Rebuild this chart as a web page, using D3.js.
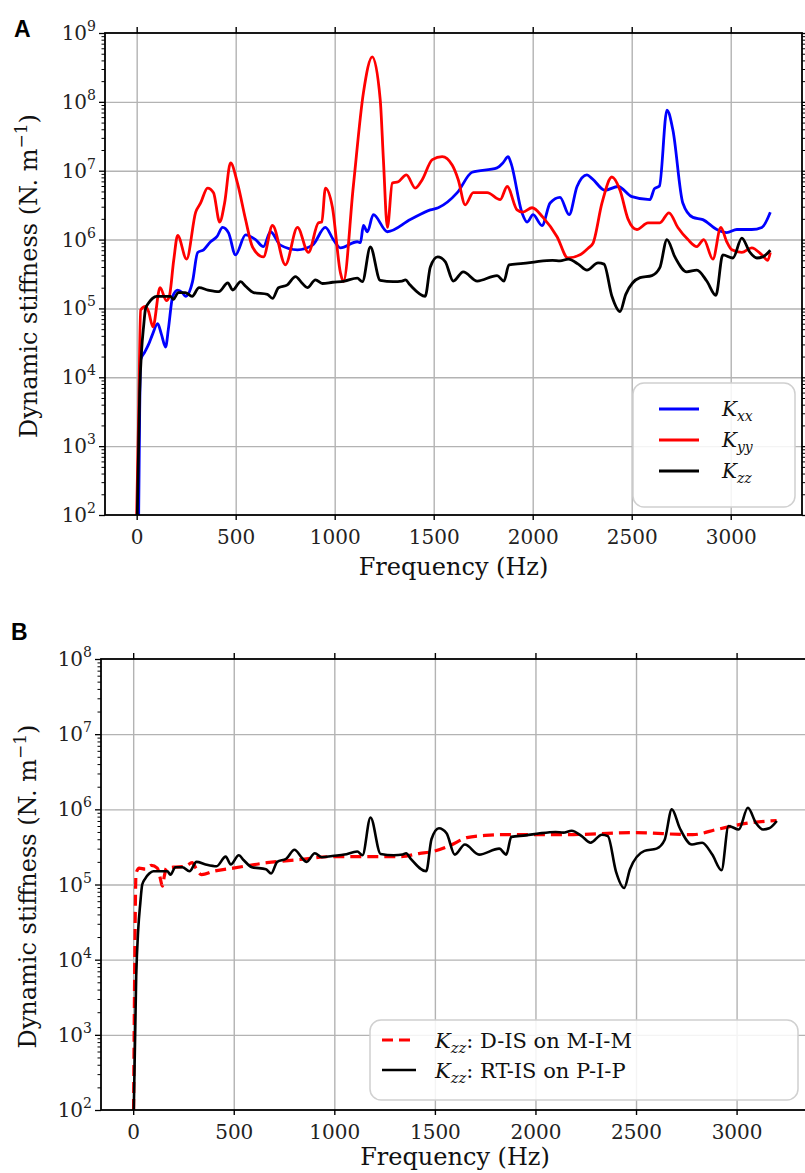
<!DOCTYPE html>
<html>
<head>
<meta charset="utf-8">
<script src="https://cdn.jsdelivr.net/npm/d3@7"></script>
<style>
    body { margin: 0; background: #fff; }
    svg { display: block; }
</style>
</head>
<body>
<svg id="figure" width="805" height="1173"></svg>
<script>

// Panel A: K_xx (blue)
const kxxFreq = [10, 15, 20, 40, 60, 80, 106, 125, 146, 160, 182, 207, 230, 247, 282, 308, 338, 373, 405, 434,
    464, 499, 550, 600, 640, 676, 726, 812, 888, 953, 993, 1029, 1114, 1130, 1145, 1165, 1195, 1266, 1382, 1483,
    1523, 1619, 1694, 1820, 1850, 1876, 1890, 1946, 1972, 2002, 2047, 2088, 2138, 2184, 2224, 2274, 2300, 2365, 2431, 2501,
    2592, 2615, 2640, 2678, 2708, 2758, 2809, 2859, 2930, 2980, 3031, 3106, 3157, 3200];
const kxxValues = [1e2, 3e3, 1.8e4, 2.3e4, 3.0e4, 4.2e4, 6.0e4, 4.2e4, 2.75e4, 5e4, 1.5e5, 1.85e5, 1.7e5, 1.5e5, 2.45e5, 6.5e5, 7.1e5, 9.3e5, 1.1e6, 1.5e6,
    1.25e6, 6.0e5, 1.17e6, 1.0e6, 7.9e5, 1.3e6, 8.3e5, 7.1e5, 8.3e5, 1.5e6, 1.0e6, 7.6e5, 9.3e5, 9.0e5, 1.6e6, 1.3e6, 2.3e6, 1.3e6, 1.95e6, 2.7e6,
    2.9e6, 4.8e6, 9.5e6, 1.1e7, 1.3e7, 1.6e7, 1.3e7, 2.45e6, 1.8e6, 2.3e6, 1.6e6, 3.4e6, 4.1e6, 2.3e6, 5.9e6, 8.7e6, 7.7e6, 5.2e6, 5.9e6, 4.2e6,
    3.8e6, 5.5e6, 6.0e6, 7.6e7, 3.9e7, 3.4e6, 2.1e6, 1.95e6, 1.4e6, 1.26e6, 1.4e6, 1.4e6, 1.5e6, 2.5e6];

// Panel A: K_yy (red)
const kyyFreq = [0, 10, 20, 45, 60, 82, 118, 150, 165, 187, 207, 252, 298, 323, 358, 388, 419, 444, 474, 509,
    550, 585, 640, 686, 751, 812, 867, 918, 935, 953, 988, 1029, 1044, 1094, 1145, 1190, 1230, 1246, 1266, 1291,
    1321, 1362, 1407, 1442, 1493, 1543, 1594, 1624, 1659, 1700, 1770, 1836, 1871, 1921, 1950, 1997, 2052, 2123, 2178, 2239,
    2280, 2305, 2350, 2400, 2441, 2481, 2526, 2582, 2642, 2688, 2733, 2784, 2829, 2864, 2910, 2950, 2980, 3006, 3056, 3106,
    3157, 3187, 3200];
const kyyValues = [1e2, 3e3, 9.5e4, 1.07e5, 9e4, 5.4e4, 2.0e5, 1.3e5, 1.5e5, 5e5, 1.15e6, 5.2e5, 2.5e6, 3.4e6, 5.6e6, 4.8e6, 1.8e6, 3.4e6, 1.3e7, 6.6e6,
    1.95e6, 7.8e5, 5.6e5, 1.6e6, 4.3e5, 1.5e6, 6.5e5, 1.75e6, 1.8e6, 5.6e6, 3.0e6, 3.3e5, 2.45e5, 5.9e6, 1.35e8, 4.5e8, 1.07e8, 1.45e7, 1.5e6, 6.6e6,
    6.9e6, 8.7e6, 5.6e6, 7.4e6, 1.45e7, 1.6e7, 1.2e7, 7.4e6, 3.2e6, 4.8e6, 4.8e6, 3.8e6, 5.9e6, 2.7e6, 2.5e6, 2.9e6, 2.1e6, 1.1e6, 5.4e5, 6.0e5,
    7.5e5, 8.9e5, 3.4e6, 8.1e6, 5.2e6, 2.0e6, 1.4e6, 1.75e6, 1.75e6, 2.45e6, 1.5e6, 1.0e6, 7.9e5, 1.0e6, 5.2e5, 1.5e6, 9.3e5, 7.1e5, 6.5e5, 7.6e5,
    6.0e5, 5.0e5, 6.5e5];

// K_zz (black), RT-IS on P-I-P, shown in both panels
const kzzFreq = [3, 15, 25, 35, 45, 60, 80, 100, 140, 170, 185, 210, 245, 280, 315, 360, 415, 460, 485, 525,
    550, 590, 660, 686, 716, 761, 802, 837, 862, 903, 938, 990, 1050, 1114, 1140, 1180, 1230, 1296, 1340, 1357,
    1380, 1457, 1483, 1520, 1558, 1599, 1649, 1720, 1820, 1855, 1880, 1952, 2022, 2100, 2138, 2180, 2230, 2274, 2330, 2360,
    2400, 2441, 2470, 2542, 2602, 2642, 2678, 2718, 2778, 2829, 2879, 2925, 2960, 3011, 3056, 3096, 3132, 3162, 3200];
const kzzValues = [1e2, 6e3, 2.5e4, 5.5e4, 1.0e5, 1.2e5, 1.4e5, 1.5e5, 1.5e5, 1.5e5, 1.35e5, 1.7e5, 1.7e5, 1.5e5, 2.0e5, 1.85e5, 1.75e5, 2.35e5, 1.85e5, 2.45e5,
    2.1e5, 1.7e5, 1.6e5, 1.4e5, 2.0e5, 2.2e5, 2.9e5, 2.3e5, 2.0e5, 2.6e5, 2.3e5, 2.4e5, 2.5e5, 2.75e5, 2.45e5, 7.8e5, 2.55e5, 2.45e5, 2.5e5, 2.6e5,
    2.2e5, 1.5e5, 4.0e5, 5.6e5, 4.8e5, 2.5e5, 3.4e5, 2.5e5, 3.0e5, 2.5e5, 4.3e5, 4.5e5, 4.8e5, 5.0e5, 4.9e5, 5.2e5, 4.4e5, 3.6e5, 4.6e5, 4.4e5,
    1.5e5, 9.0e4, 1.6e5, 2.8e5, 3.0e5, 3.9e5, 1.0e6, 5.6e5, 3.4e5, 3.6e5, 2.5e5, 1.55e5, 6.0e5, 5.4e5, 1.05e6, 6.6e5, 5.4e5, 5.6e5, 7.0e5];

// Panel B: K_zz D-IS on M-I-M (red dashed)
const disFreq = [2, 8, 14, 30, 60, 90, 120, 135, 145, 155, 165, 200, 260, 293, 315, 340, 400, 497, 665, 830,
    994, 1160, 1326, 1426, 1475, 1575, 1659, 1750, 1823, 2156, 2484, 2782, 2901, 3065, 3199];
const disValues = [1e2, 1e4, 1.4e5, 1.65e5, 1.6e5, 1.8e5, 1.65e5, 1.2e5, 9.5e4, 1.3e5, 1.65e5, 1.7e5, 1.75e5, 1.95e5, 1.6e5, 1.35e5, 1.5e5, 1.65e5, 1.95e5, 2.15e5,
    2.35e5, 2.35e5, 2.35e5, 2.6e5, 2.7e5, 3.3e5, 4.2e5, 4.5e5, 4.6e5, 4.6e5, 4.9e5, 4.6e5, 5.4e5, 6.6e5, 7.1e5];

const xTicks = [0, 500, 1000, 1500, 2000, 2500, 3000];
const xDomain = [-160, 3360];
const yExponentsA = [2, 3, 4, 5, 6, 7, 8, 9];
const yExponentsB = [2, 3, 4, 5, 6, 7, 8];
const legendSubsA = ['xx', 'yy', 'zz'];
const legendTextB = [': D-IS on M-I-M', ': RT-IS on P-I-P'];

const serif = '"DejaVu Serif", serif';
const svg = d3.select('#figure');

function styleAxis(g, color, width) {
    g.select('.domain').remove();
    g.selectAll('.tick line').attr('stroke', color).attr('stroke-width', width);
}

function drawPanel(panel) {
    const { left, right, top, bottom } = panel.box;
    const exps = panel.exponents;
    const x = d3.scaleLinear().domain(xDomain).range([left, right]);
    const y = d3.scaleLog()
        .domain([Math.pow(10, exps[0]), Math.pow(10, exps[exps.length - 1])])
        .range([bottom, top]);

    const majors = exps.map(e => Math.pow(10, e));
    const minors = [];
    exps.slice(0, -1).forEach(e => {
        for (let k = 2; k <= 9; k++) minors.push(k * Math.pow(10, e));
    });

    const g = svg.append('g');

    // grid
    g.append('g')
        .attr('transform', `translate(0,${bottom})`)
        .call(d3.axisBottom(x).tickValues(xTicks).tickSize(-(bottom - top)).tickFormat(''))
        .call(a => styleAxis(a, '#b3b3b3', 1.4));
    g.append('g')
        .attr('transform', `translate(${left},0)`)
        .call(d3.axisLeft(y).tickValues(majors.slice(1, -1)).tickSize(-(right - left)).tickFormat(''))
        .call(a => styleAxis(a, '#b3b3b3', 1.4));

    // data lines
    const clipId = 'clip-' + panel.name;
    svg.append('clipPath').attr('id', clipId)
        .append('rect')
        .attr('x', left).attr('y', top - 2)
        .attr('width', right - left).attr('height', bottom - top + 2);

    const line = d3.line()
        .x(d => x(d[0]))
        .y(d => y(d[1]))
        .curve(d3.curveMonotoneX);

    panel.series.forEach(s => {
        g.append('path')
            .datum(d3.zip(s.freq, s.values))
            .attr('clip-path', `url(#${clipId})`)
            .attr('fill', 'none')
            .attr('stroke', s.color)
            .attr('stroke-width', s.width)
            .attr('stroke-dasharray', s.dash || null)
            .attr('stroke-linejoin', 'round')
            .attr('d', line);
    });

    // ticks
    g.append('g').attr('transform', `translate(0,${bottom})`)
        .call(d3.axisBottom(x).tickValues(xTicks).tickFormat(d3.format('d')).tickSize(5).tickPadding(10))
        .call(a => styleAxis(a, '#000', 1.4))
        .call(a => a.selectAll('text').attr('font-family', serif).attr('font-size', 20).attr('fill', '#222'));
    g.append('g').attr('transform', `translate(0,${top})`)
        .call(d3.axisTop(x).tickValues(xTicks).tickSize(6).tickFormat(''))
        .call(a => styleAxis(a, '#000', 1.4));
    [[left, d3.axisLeft], [right, d3.axisRight]].forEach(([pos, axisFn]) => {
        g.append('g').attr('transform', `translate(${pos},0)`)
            .call(axisFn(y).tickValues(majors).tickSize(6).tickFormat(''))
            .call(a => styleAxis(a, '#000', 1.3));
        g.append('g').attr('transform', `translate(${pos},0)`)
            .call(axisFn(y).tickValues(minors).tickSize(3.5).tickFormat(''))
            .call(a => styleAxis(a, '#000', 1));
    });

    // y tick labels 10^n
    const yLabels = g.append('g').selectAll('text')
        .data(exps)
        .join('text')
        .attr('x', left - 9)
        .attr('y', e => y(Math.pow(10, e)) + 7)
        .attr('text-anchor', 'end')
        .attr('font-family', serif)
        .attr('font-size', 20)
        .attr('fill', '#222');
    yLabels.append('tspan').text('10');
    yLabels.append('tspan').attr('dy', -9).attr('font-size', 14).text(e => e);

    // frame
    g.append('rect')
        .attr('x', left).attr('y', top)
        .attr('width', right - left).attr('height', bottom - top)
        .attr('fill', 'none')
        .attr('stroke', '#000')
        .attr('stroke-width', 1.8);

    // axis titles
    g.append('text')
        .attr('x', (left + right) / 2)
        .attr('y', panel.xTitleY)
        .attr('text-anchor', 'middle')
        .attr('font-family', serif)
        .attr('font-size', 24)
        .attr('fill', '#111')
        .text('Frequency (Hz)');

    const yTitle = g.append('text')
        .attr('transform', `translate(${panel.yTitleX},${(top + bottom) / 2 + 2}) rotate(-90)`)
        .attr('text-anchor', 'middle')
        .attr('font-family', serif)
        .attr('font-size', 24)
        .attr('fill', '#111');
    yTitle.append('tspan').text('Dynamic stiffness (N. m');
    yTitle.append('tspan').attr('dy', -10).attr('font-size', 17).text('\u22121');
    yTitle.append('tspan').attr('dy', 10).text(')');

    // panel letter
    svg.append('text')
        .attr('x', panel.letterPos[0])
        .attr('y', panel.letterPos[1])
        .attr('font-family', '"Liberation Sans", Arial, sans-serif')
        .attr('font-weight', 'bold')
        .attr('font-size', 23)
        .text(panel.name);

    // legend
    const lg = panel.legend;
    g.append('rect')
        .attr('x', lg.x).attr('y', lg.y)
        .attr('width', lg.w).attr('height', lg.h)
        .attr('rx', 11)
        .attr('fill', 'rgba(255,255,255,0.85)')
        .attr('stroke', '#d0d0d0')
        .attr('stroke-width', 1.5);

    lg.rows.forEach((row, i) => {
        const ry = lg.y + lg.firstRow + i * lg.rowGap;
        g.append('line')
            .attr('x1', lg.x + lg.lineX[0]).attr('x2', lg.x + lg.lineX[1])
            .attr('y1', ry).attr('y2', ry)
            .attr('stroke', row.color)
            .attr('stroke-width', row.width)
            .attr('stroke-dasharray', row.dash || null);
        const t = g.append('text')
            .attr('x', lg.x + lg.textX)
            .attr('y', ry + lg.baseline)
            .attr('font-family', serif)
            .attr('font-size', lg.fontSize)
            .attr('fill', '#111');
        t.append('tspan').attr('font-style', 'italic').text('K');
        t.append('tspan').attr('font-style', 'italic').attr('font-size', lg.fontSize * 0.7).attr('dy', 5).text(row.sub);
        if (row.rest) t.append('tspan').attr('dy', -5).text(row.rest);
    });
}

drawPanel({
    name: 'A',
    box: { left: 105, right: 802, top: 33, bottom: 515 },
    exponents: yExponentsA,
    xTitleY: 575,
    yTitleX: 37,
    letterPos: [14, 37],
    series: [
        { freq: kxxFreq, values: kxxValues, color: '#0000ff', width: 2.8 },
        { freq: kyyFreq, values: kyyValues, color: '#ff0000', width: 2.8 },
        { freq: kzzFreq, values: kzzValues, color: '#000000', width: 2.8 }
    ],
    legend: {
        x: 633, y: 383, w: 162, h: 124, firstRow: 26, rowGap: 31,
        lineX: [26, 66], textX: 89, baseline: 7, fontSize: 20,
        rows: [
            { color: '#0000ff', width: 3, sub: legendSubsA[0] },
            { color: '#ff0000', width: 3, sub: legendSubsA[1] },
            { color: '#000000', width: 3, sub: legendSubsA[2] }
        ]
    }
});

drawPanel({
    name: 'B',
    box: { left: 101, right: 809, top: 659, bottom: 1110 },
    exponents: yExponentsB,
    xTitleY: 1165,
    yTitleX: 36,
    letterPos: [11, 640],
    series: [
        { freq: disFreq, values: disValues, color: '#ff0000', width: 3.2, dash: '11,6' },
        { freq: kzzFreq, values: kzzValues, color: '#000000', width: 2.6 }
    ],
    legend: {
        x: 370, y: 1020, w: 428, h: 80, firstRow: 20, rowGap: 30,
        lineX: [12, 46], textX: 65, baseline: 8, fontSize: 21,
        rows: [
            { color: '#ff0000', width: 3, dash: '11,6', sub: 'zz', rest: legendTextB[0] },
            { color: '#000000', width: 2.6, sub: 'zz', rest: legendTextB[1] }
        ]
    }
});

</script>
</body>
</html>
